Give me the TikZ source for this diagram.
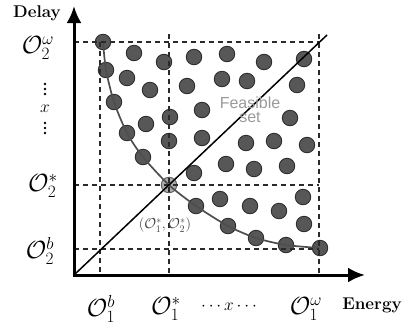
\documentclass[tikz,border=0pt]{standalone}
\usepackage{fontspec}
\newfontfamily\feasfont{Liberation Sans}
\usetikzlibrary{arrows.meta}
\definecolor{dotfill}{HTML}{575757}
\definecolor{dotline}{HTML}{2E2E2E}
\definecolor{optfill}{HTML}{ABABAB}
\definecolor{optline}{HTML}{5A5A5A}
\definecolor{guidecol}{HTML}{2A2A2A}
\definecolor{frontcol}{HTML}{4E4E4E}
\definecolor{feascol}{HTML}{9A9A9A}
\begin{document}
\begin{tikzpicture}[x=1pt,y=-1pt,
  dot/.style={circle, fill=dotfill, draw=dotline, line width=0.9pt, minimum size=15.5pt, inner sep=0pt},
  optdot/.style={dot, fill=optfill, draw=optline},
  guide/.style={draw=guidecol, line width=1.7pt, dash pattern=on 5pt off 4pt},
  frontier/.style={draw=frontcol, line width=1.7pt},
  diag/.style={draw=black, line width=1.5pt},
  axis/.style={draw=black, line width=3pt, {Latex[length=17pt,width=15pt]}-{Latex[length=17pt,width=15pt]}},
  lab/.style={font=\fontsize{26}{28}\selectfont, inner sep=0pt},
  axlab/.style={font=\fontsize{17}{19}\selectfont\bfseries, inner sep=0pt},
  feas/.style={font=\fontsize{16}{14}\selectfont\feasfont, text=feascol, align=center, inner sep=0pt},
  pairlab/.style={font=\fontsize{14}{16}\selectfont, text=black!75, inner sep=0pt},
  vdot/.style={fill=black, draw=none}
]
\useasboundingbox (0,0) rectangle (403,333);

% interior dots
\foreach \px/\py [count=\i] in {134/53,164/62,194/57,127/78,150/90,187/86,170/117,146/124,202/110,169/141,202/138,
  227/54,264/62,304/59,222/79,247/81,297/85,290/118,246/143,274/141,307/145,
  226/164,254/169,287/166,194/173,220/199,250/206,279/211,303/197,304/224}
  \node[dot] (d\i) at (\px,\py) {};

% frontier dots
\node[dot] (f1) at (103,42) {};
\node[dot] (f2) at (106,70) {};
\node[dot] (f3) at (114,102) {};
\node[dot] (f4) at (127,133) {};
\node[dot] (f5) at (143,157) {};
\node[optdot] (f6) at (169,185) {};
\node[dot] (f7) at (196,206) {};
\node[dot] (f8) at (228,226) {};
\node[dot] (f9) at (256,238) {};
\node[dot] (f10) at (286,245) {};
\node[dot] (f11) at (320,248) {};

% frontier curve
\draw[frontier] plot[smooth, tension=0.45] coordinates {(f1) (f2) (f3) (f4) (f5) (f6) (f7) (f8) (f9) (f10) (f11)};

% guide coordinates
\coordinate (O) at (74,275);
\coordinate (ytip) at (74,6);
\coordinate (xtip) at (365,275);
\coordinate (gTopL) at (74,42);
\coordinate (gTopR) at (319,42);
\coordinate (gRtop) at (319,34);
\coordinate (gRbot) at (319,275);
\coordinate (gBtop) at (100,42);
\coordinate (gBbot) at (100,275);
\coordinate (gStop) at (169,34);
\coordinate (gSbot) at (169,275);
\coordinate (hSL) at (74,185);
\coordinate (hSR) at (319,185);
\coordinate (hBL) at (74,249);
\coordinate (hBR) at (319,249);
\coordinate (dEnd) at (327,35);

% dashed guides
\draw[guide] (gTopL) -- (gTopR);
\draw[guide] (gRtop) -- (gRbot);
\draw[guide] (gBtop) -- (gBbot);
\draw[guide] (gStop) -- (gSbot);
\draw[guide] (hSL) -- (hSR);
\draw[guide] (hBL) -- (hBR);

% diagonal
\draw[diag] (O) -- (dEnd);

% axes
\draw[axis] (ytip) -- (O) -- (xtip);

% axis labels
\node[axlab] (delay) at (37,13) {Delay};
\node[axlab] (energy) at (372,305) {Energy};

% tick labels x
\node[lab] (o1b) at (101,309) {$\mathcal{O}_1^b$};
\node[lab] (o1s) at (166,309) {$\mathcal{O}_1^*$};
\node[lab] (o1w) at (306,309) {$\mathcal{O}_1^\omega$};
\node[font=\fontsize{17}{19}\selectfont, inner sep=0pt] (xdots) at (229,307) {$\cdots x\cdots$};

% tick labels y
\node[lab] (o2w) at (38,48) {$\mathcal{O}_2^\omega$};
\node[lab] (o2s) at (43,186) {$\mathcal{O}_2^*$};
\node[lab] (o2b) at (40,251) {$\mathcal{O}_2^b$};
\node[font=\fontsize{17}{19}\selectfont, inner sep=0pt] (yx) at (45,109) {$x$};
\foreach \yy in {84,89,94,123,128,133}
  \fill[vdot] (45,\yy) circle (1.4pt);

% feasible set
\node[feas] (feasible) at (250,110) {Feasible\\set};

% optimum label
\node[pairlab] (pair) at (165,225) {$(\mathcal{O}_1^{*},\mathcal{O}_2^{*})$};
\end{tikzpicture}
\end{document}
